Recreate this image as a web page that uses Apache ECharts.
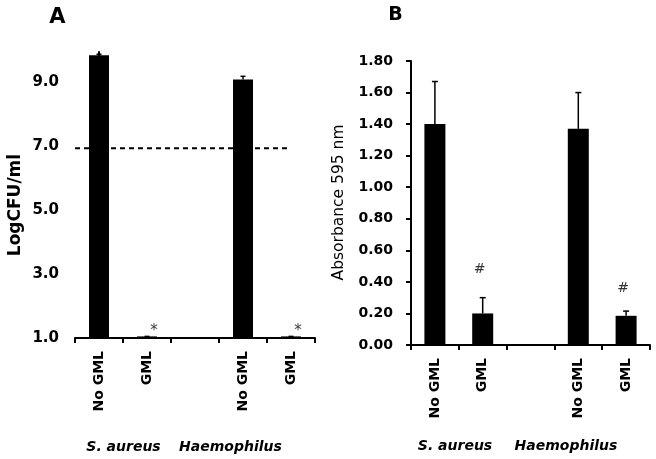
<!DOCTYPE html>
<html>
<head>
<meta charset="utf-8">
<script src="https://cdn.jsdelivr.net/npm/echarts@6/dist/echarts.min.js"></script>
<style>html,body{margin:0;padding:0;background:#fff}#c{width:656px;height:459px}</style>
</head>
<body>
<div id="c"></div>
<script>
// ---- data ----
const categories = ['No GML', 'GML', '', 'No GML', 'GML'];
const groups = ['S. aureus', 'Haemophilus'];
// Panel A: LogCFU/ml
const valuesA = [9.84, 1.05, null, 9.08, 1.05];
const errorsA = [0.03, 0, null, 0.1, 0];
const ticksA = [1, 3, 5, 7, 9];
const thresholdA = 6.93;
const thresholdEndA = 3.95; // category index where dashed line ends
const marksA = [{ i: 1, text: '*', y: 1.2 }, { i: 4, text: '*', y: 1.2 }];
// Panel B: Absorbance 595 nm
const valuesB = [1.40, 0.20, null, 1.37, 0.185];
const errorsB = [0.27, 0.10, null, 0.23, 0.03];
const marksB = [{ i: 1, text: '#', y: 0.48 }, { i: 4, text: '#', y: 0.36 }];

const FONT = 'DejaVu Sans';
const chart = echarts.init(document.getElementById('c'), null, { renderer: 'canvas' });

function errData(vals, errs) {
  return vals.map((v, i) => v == null ? null : [i, v, errs[i]]).filter(d => d);
}
function errRender(capW) {
  return function (params, api) {
    const i = api.value(0), v = api.value(1), e = api.value(2);
    const base = api.coord([i, v]);
    const top = api.coord([i, v + e]);
    return {
      type: 'group',
      children: [
        { type: 'line', shape: { x1: base[0], y1: base[1], x2: top[0], y2: top[1] }, style: { stroke: '#000', lineWidth: 1.5 } },
        { type: 'line', shape: { x1: top[0] - capW, y1: top[1], x2: top[0] + capW, y2: top[1] }, style: { stroke: '#000', lineWidth: 1.5 } }
      ]
    };
  };
}

const xAxisCommon = {
  type: 'category',
  data: categories,
  boundaryGap: true,
  axisLine: { lineStyle: { color: '#000', width: 2 } },
  axisTick: { show: true, length: 5, lineStyle: { color: '#000', width: 2 } },
  axisLabel: { rotate: 90, margin: 13, color: '#000', fontFamily: FONT, fontWeight: 'bold', fontSize: 14, interval: 0 },
  splitLine: { show: false }
};

const option = {
  animation: false,
  backgroundColor: '#fff',
  grid: [
    { left: 75, top: 52, width: 240, height: 286 },
    { left: 411, top: 61, width: 239, height: 284 }
  ],
  xAxis: [
    Object.assign({ gridIndex: 0 }, xAxisCommon),
    Object.assign({ gridIndex: 1 }, xAxisCommon),
    { type: 'value', gridIndex: 0, min: -0.5, max: categories.length - 0.5, show: false }
  ],
  yAxis: [
    {
      type: 'value', gridIndex: 0, min: 1, max: 9.94,
      axisLine: { show: true, lineStyle: { color: '#000', width: 2 } },
      axisTick: { show: true, length: 5, lineStyle: { color: '#000', width: 2 }, customValues: ticksA },
      axisLabel: { color: '#000', fontFamily: FONT, fontWeight: 'bold', fontSize: 15, margin: 16, customValues: ticksA, formatter: v => v.toFixed(1) },
      splitLine: { show: false }
    },
    {
      type: 'value', gridIndex: 1, min: 0, max: 1.8, interval: 0.2,
      axisLine: { show: true, lineStyle: { color: '#000', width: 2 } },
      axisTick: { show: true, length: 5, lineStyle: { color: '#000', width: 2 } },
      axisLabel: { color: '#000', fontFamily: FONT, fontWeight: 'bold', fontSize: 14, margin: 18, formatter: v => v.toFixed(2) },
      splitLine: { show: false }
    }
  ],
  series: [
    { type: 'bar', xAxisIndex: 0, yAxisIndex: 0, data: valuesA, barWidth: 20, itemStyle: { color: '#000' } },
    { type: 'custom', xAxisIndex: 0, yAxisIndex: 0, data: errData(valuesA, errorsA), renderItem: errRender(2.5), z: 3 },
    {
      type: 'line', xAxisIndex: 2, yAxisIndex: 0, symbol: 'none',
      data: [[-0.5, thresholdA], [thresholdEndA, thresholdA]],
      lineStyle: { color: '#000', width: 2, type: [5, 4] }, z: 4
    },
    {
      type: 'scatter', xAxisIndex: 0, yAxisIndex: 0, symbolSize: 1, itemStyle: { color: 'transparent' },
      data: marksA.map(m => ({ value: [m.i, m.y], name: m.text })),
      label: { show: true, position: 'inside', formatter: '{b}', color: '#000', fontFamily: FONT, fontSize: 15, offset: [7, 0] }
    },
    { type: 'bar', xAxisIndex: 1, yAxisIndex: 1, data: valuesB, barWidth: 21, itemStyle: { color: '#000' } },
    { type: 'custom', xAxisIndex: 1, yAxisIndex: 1, data: errData(valuesB, errorsB), renderItem: errRender(3), z: 3 },
    {
      type: 'scatter', xAxisIndex: 1, yAxisIndex: 1, symbolSize: 1, itemStyle: { color: 'transparent' },
      data: marksB.map(m => ({ value: [m.i, m.y], name: m.text })),
      label: { show: true, position: 'inside', formatter: '{b}', color: '#000', fontFamily: FONT, fontSize: 14, offset: [-3, 0] }
    }
  ],
  graphic: [
    { type: 'text', x: 57.5, y: 17.5, style: { text: 'A', font: 'bold 21px ' + FONT, fill: '#000', align: 'center', verticalAlign: 'middle' } },
    { type: 'text', x: 395.5, y: 15, style: { text: 'B', font: 'bold 19px ' + FONT, fill: '#000', align: 'center', verticalAlign: 'middle' } },
    { type: 'text', x: 16, y: 205, rotation: Math.PI / 2, style: { text: 'LogCFU/ml', font: 'bold 17px ' + FONT, fill: '#000', align: 'center', verticalAlign: 'middle' } },
    { type: 'text', x: 339, y: 202.5, rotation: Math.PI / 2, style: { text: 'Absorbance 595 nm', font: '15.5px ' + FONT, fill: '#000', align: 'center', verticalAlign: 'middle' } },
    { type: 'text', x: 123.5, y: 447, style: { text: groups[0], font: 'italic bold 14px ' + FONT, fill: '#000', align: 'center', verticalAlign: 'middle' } },
    { type: 'text', x: 230.5, y: 447, style: { text: groups[1], font: 'italic bold 14px ' + FONT, fill: '#000', align: 'center', verticalAlign: 'middle' } },
    { type: 'text', x: 455, y: 446, style: { text: groups[0], font: 'italic bold 14px ' + FONT, fill: '#000', align: 'center', verticalAlign: 'middle' } },
    { type: 'text', x: 566, y: 446, style: { text: groups[1], font: 'italic bold 14px ' + FONT, fill: '#000', align: 'center', verticalAlign: 'middle' } }
  ]
};
chart.setOption(option);
</script>
</body>
</html>
